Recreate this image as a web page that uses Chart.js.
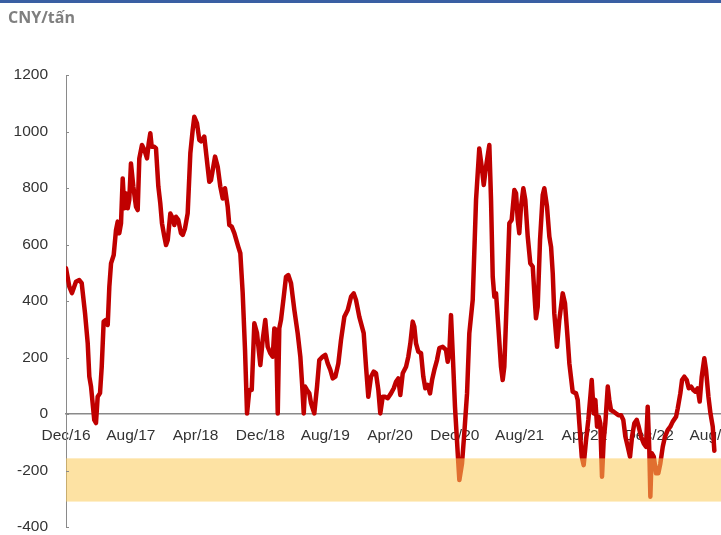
<!DOCTYPE html>
<html>
<head>
<meta charset="utf-8">
<script src="https://cdn.jsdelivr.net/npm/chart.js@4/dist/chart.umd.min.js"></script>
<style>
  html, body { margin: 0; padding: 0; background: #fff; }
  canvas { display: block; }
</style>
</head>
<body>
<canvas id="spreadChart" width="721" height="535"></canvas>
<script>
// Months elapsed since Dec 2016 for each observation
const monthOffset = [
  0.00, 0.41, 0.74, 1.23, 1.64, 1.94, 2.35, 2.68, 2.88, 3.09, 3.49, 3.70, 3.91, 4.20, 4.41, 4.65, 4.94, 5.15, 5.35, 5.56,
  5.89, 6.17, 6.38, 6.58, 6.79, 7.00, 7.20, 7.41, 7.62, 7.81, 8.02, 8.31, 8.64, 8.85, 9.05, 9.38, 9.67, 10.00, 10.21, 10.41,
  10.58, 10.90, 11.11, 11.40, 11.64, 11.85, 12.14, 12.35, 12.56, 12.88, 13.17, 13.37, 13.58, 13.86, 14.20, 14.41, 14.69, 15.02, 15.35, 15.64,
  15.84, 16.17, 16.46, 16.67, 17.07, 17.69, 17.90, 18.40, 18.73, 19.05, 19.35, 19.63, 19.96, 20.16, 20.46, 20.78, 21.27, 21.52, 21.81, 22.10,
  22.35, 22.63, 22.93, 23.25, 23.58, 23.99, 24.28, 24.60, 24.90, 25.22, 25.52, 25.72, 25.93, 26.14, 26.33, 26.54, 26.88, 27.16, 27.44, 27.78,
  28.19, 28.60, 28.93, 29.14, 29.35, 29.51, 29.75, 30.04, 30.25, 30.65, 30.99, 31.27, 31.69, 32.01, 32.31, 32.63, 32.93, 33.25, 33.62, 33.95,
  34.36, 34.78, 35.19, 35.52, 35.80, 36.21, 36.75, 37.04, 37.32, 37.65, 37.99, 38.27, 38.56, 38.80, 39.10, 39.38, 39.72, 40.12, 40.46, 40.74,
  41.02, 41.27, 41.57, 41.98, 42.26, 42.51, 42.80, 43.00, 43.21, 43.49, 43.83, 44.11, 44.36, 44.65, 44.94, 45.19, 45.47, 45.80, 46.09, 46.51,
  46.91, 47.12, 47.32, 47.53, 47.74, 48.02, 48.36, 48.56, 48.89, 49.17, 49.51, 49.79, 50.21, 50.62, 51.02, 51.32, 51.57, 51.85, 52.26, 52.47,
  52.68, 52.88, 53.09, 53.37, 53.70, 53.91, 54.11, 54.41, 54.73, 55.02, 55.35, 55.56, 55.77, 55.96, 56.17, 56.46, 56.70, 57.00, 57.32, 57.62,
  57.82, 58.02, 58.23, 58.52, 58.85, 59.05, 59.38, 59.67, 59.88, 60.09, 60.28, 60.62, 60.90, 61.32, 61.60, 61.94, 62.14, 62.55, 62.96, 63.17,
  63.37, 63.67, 63.91, 64.20, 64.48, 64.73, 64.90, 65.15, 65.35, 65.56, 65.77, 65.96, 66.17, 66.38, 66.58, 66.88, 67.07, 67.28, 67.62, 67.90,
  68.19, 68.52, 68.80, 69.05, 69.35, 69.63, 69.88, 70.16, 70.46, 70.70, 70.99, 71.32, 71.60, 71.81, 72.01, 72.14, 72.31, 72.56, 72.84, 73.12,
  73.37, 73.67, 73.95, 74.28, 74.60, 74.90, 75.31, 75.52, 75.84, 76.05, 76.33, 76.63, 76.88, 77.16, 77.44, 77.70, 77.98, 78.23, 78.48, 78.80,
  79.01, 79.31, 79.56, 79.84, 80.04
];

// Spread, CNY per tonne
const spreadCny = [
  516, 451, 428, 468, 474, 463, 357, 251, 132, 97, -21, -32, 61, 74, 167, 327, 333, 315, 451, 533,
  563, 651, 681, 640, 675, 834, 728, 781, 728, 758, 887, 805, 734, 722, 905, 952, 935, 905, 958, 994,
  946, 946, 940, 805, 746, 675, 628, 598, 616, 710, 693, 669, 698, 687, 640, 634, 657, 710, 923, 1005,
  1052, 1029, 970, 965, 982, 822, 828, 911, 875, 805, 763, 799, 734, 669, 663, 640, 592, 569, 430, 227,
  2, 85, 85, 321, 286, 173, 262, 333, 238, 215, 203, 303, 297, 2, 303, 333, 415, 486, 492, 463,
  368, 286, 203, 109, 2, 97, 85, 73, 38, 2, 97, 191, 203, 209, 179, 156, 126, 132, 179, 262,
  344, 368, 415, 427, 404, 344, 286, 167, 61, 132, 150, 144, 85, 2, 61, 61, 56, 73, 91, 114,
  126, 67, 144, 167, 203, 250, 327, 309, 250, 221, 215, 132, 91, 103, 73, 120, 156, 191, 233, 238,
  227, 185, 215, 350, 215, 26, -139, -234, -175, -68, 73, 286, 404, 758, 940, 875, 811, 875, 952, 758,
  486, 415, 427, 309, 167, 120, 167, 404, 675, 687, 793, 781, 687, 640, 734, 799, 758, 628, 533, 522,
  427, 339, 380, 616, 775, 799, 734, 628, 592, 498, 356, 238, 333, 427, 392, 262, 179, 79, 73, 50,
  -33, -151, -181, -92, -21, 61, 120, 2, 50, -45, -10, -33, -222, -92, -33, 97, 50, 14, 8, 2,
  -4, -4, -21, -80, -116, -151, -80, -33, -21, -45, -80, -104, -116, 26, -127, -293, -139, -151, -210, -210,
  -175, -116, -80, -57, -45, -27, -10, 20, 73, 120, 132, 120, 91, 97, 85, 79, 91, 44, 132, 197,
  156, 61, 2, -45, -130
];

// Axis labels every eight months, starting Dec/16
const tickLabels = ['Dec/16', 'Aug/17', 'Apr/18', 'Dec/18', 'Aug/19', 'Apr/20', 'Dec/20', 'Aug/21', 'Apr/22', 'Dec/22', 'Aug/23'];
const tickStepMonths = 8;

// Highlighted loss range on the value axis
const lossBand = [-157, -310];

const points = monthOffset.map((m, i) => ({ x: m, y: spreadCny[i] }));

// Thin blue rule across the top of the figure
const topRule = {
  id: 'topRule',
  beforeDraw(chart) {
    const { ctx, width } = chart;
    ctx.save();
    ctx.fillStyle = '#3a5fa3';
    ctx.fillRect(0, 0, width, 3);
    ctx.restore();
  }
};

// Translucent band drawn over the line so the dips inside it read orange
const bandOverlay = {
  id: 'bandOverlay',
  afterDatasetsDraw(chart) {
    const { ctx, chartArea, scales: { y } } = chart;
    const top = y.getPixelForValue(lossBand[0]);
    const bottom = y.getPixelForValue(lossBand[1]);
    ctx.save();
    ctx.fillStyle = 'rgba(251, 202, 87, 0.55)';
    ctx.fillRect(chartArea.left, top, chartArea.right - chartArea.left, bottom - top);
    ctx.restore();
  }
};

// Short inward tick marks on the value axis
const innerTicks = {
  id: 'innerTicks',
  afterDraw(chart) {
    const { ctx, scales: { y } } = chart;
    const x0 = y.right;
    ctx.save();
    ctx.strokeStyle = '#8a8a8a';
    ctx.lineWidth = 1;
    y.ticks.forEach(t => {
      const py = Math.round(y.getPixelForValue(t.value)) + 0.5;
      ctx.beginPath();
      ctx.moveTo(x0, py);
      ctx.lineTo(x0 + 3, py);
      ctx.stroke();
    });
    ctx.restore();
  }
};

const tickFont = { family: "'Liberation Sans', Arial, sans-serif", size: 15.5 };

new Chart(document.getElementById('spreadChart'), {
  type: 'line',
  data: {
    datasets: [{
      data: points,
      borderColor: '#c00000',
      borderWidth: 4.5,
      pointRadius: 0,
      tension: 0,
      borderJoinStyle: 'round',
      borderCapStyle: 'round',
      fill: false
    }]
  },
  options: {
    responsive: false,
    animation: false,
    devicePixelRatio: 1,
    layout: { padding: { left: 8, right: 0, top: 0, bottom: 8 } },
    plugins: {
      legend: { display: false },
      tooltip: { enabled: false },
      title: {
        display: true,
        text: 'CNY/tấn',
        align: 'start',
        color: '#7f7f7f',
        font: { family: "'Open Sans', sans-serif", size: 16, weight: 'bold' },
        padding: { top: 8.5, bottom: 47.3 }
      }
    },
    scales: {
      x: {
        type: 'linear',
        position: { y: 0 },
        min: 0,
        max: 80.86,
        grid: { display: false, drawTicks: false },
        border: { display: true, color: '#8a8a8a', width: 1.5 },
        ticks: {
          stepSize: tickStepMonths,
          includeBounds: false,
          autoSkip: false,
          maxRotation: 0,
          padding: 12,
          color: '#333333',
          font: tickFont,
          callback: (v) => tickLabels[Math.round(v / tickStepMonths)] ?? ''
        },
        afterFit(scale) {
          scale.paddingLeft = 0;
          scale.paddingRight = 0;
        }
      },
      y: {
        position: 'left',
        min: -400,
        max: 1200,
        grid: { display: false, drawTicks: false },
        border: { display: true, color: '#8a8a8a', width: 1 },
        ticks: {
          stepSize: 200,
          padding: 18,
          color: '#333333',
          font: tickFont,
          callback: (v) => String(v)
        },
        afterFit(scale) {
          scale.width = 58;
          scale.paddingTop = 0;
          scale.paddingBottom = 0;
        }
      }
    }
  },
  plugins: [topRule, bandOverlay, innerTicks]
});
</script>
</body>
</html>
